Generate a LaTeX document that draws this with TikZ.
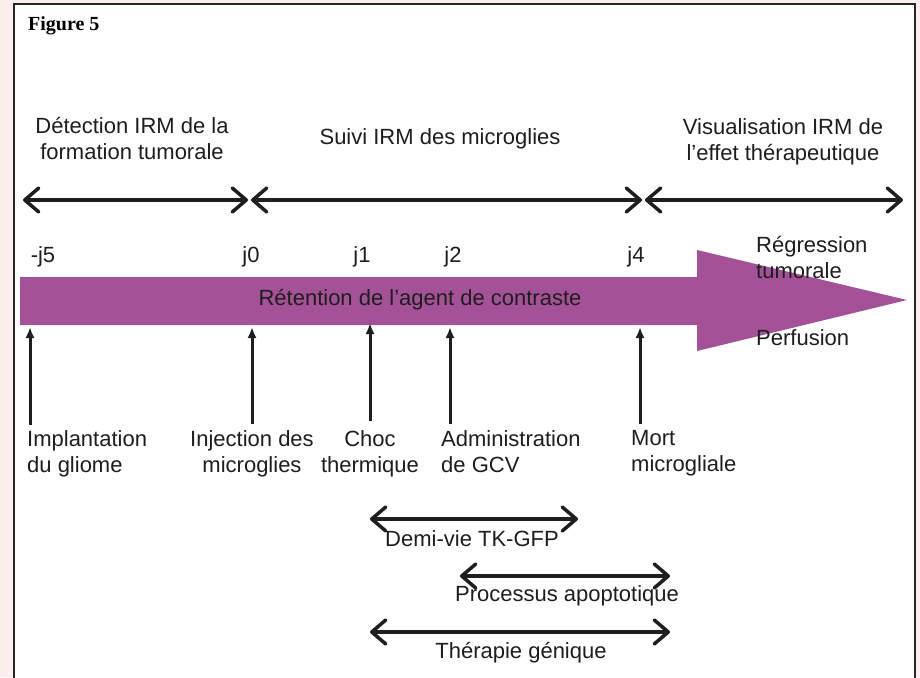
\documentclass[tikz,border=0pt]{standalone}
\usepackage{fontspec}
\setmainfont{Liberation Sans}
\newfontfamily\serifbf{Liberation Serif}
\usetikzlibrary{arrows.meta}
\definecolor{pinkbg}{HTML}{FCEEEA}
\definecolor{violet}{HTML}{A45197}
\definecolor{txt}{HTML}{1E1E1E}
\begin{document}
\begin{tikzpicture}[x=1pt,y=-1pt,
  lbl/.style={font=\fontsize{22}{26}\selectfont, text=txt, inner sep=0pt, align=center},
  lbll/.style={lbl, align=left, anchor=north west},
  period/.style={line width=3.5pt, draw=txt, {Straight Barb[length=14pt,width=24pt,line cap=round,line join=round]}-{Straight Barb[length=14pt,width=24pt,line cap=round,line join=round]}},
  event/.style={line width=3pt, draw=txt, -{Latex[length=11pt,width=9pt]}}]
\useasboundingbox (0,0) rectangle (920,677);
\fill[pinkbg] (0,0) rectangle (920,677);
\draw[fill=white, line width=1.5pt, draw=black!85] (14,4) rectangle (915,700);
\node[anchor=base west, font=\serifbf\bfseries\fontsize{20}{22}\selectfont, inner sep=0pt] (fig) at (28,31) {Figure 5};

% phase labels
\node[lbl, anchor=north] (p1) at (132,117) {Détection IRM de la\\formation tumorale};
\node[lbl, anchor=base] (p2) at (440,144) {Suivi IRM des microglies};
\node[lbl, anchor=north] (p3) at (783,118) {Visualisation IRM de\\l'effet thérapeutique};

% phase arrows
\coordinate (a1) at (23,200); \coordinate (a2) at (248,200);
\coordinate (b1) at (251,200); \coordinate (b2) at (642,200);
\coordinate (c1) at (645,200); \coordinate (c2) at (903,200);
\draw[period] (a1) -- (a2);
\draw[period] (b1) -- (b2);
\draw[period] (c1) -- (c2);

% day labels
\node[lbl, anchor=base] (dm5) at (43,262) {-j5};
\node[lbl, anchor=base] (d0) at (251,262) {j0};
\node[lbl, anchor=base] (d1) at (362,262) {j1};
\node[lbl, anchor=base] (d2) at (453,262) {j2};
\node[lbl, anchor=base] (d4) at (636,262) {j4};

% big arrow
\fill[violet] (20,277) -- (697,277) -- (697,250) -- (907,300) -- (697,351) -- (697,325) -- (20,325) -- cycle;
\node[lbl, anchor=base] (ret) at (420,305) {Rétention de l'agent de contraste};
\node[lbll] (reg) at (756,236) {Régression\\tumorale};
\node[lbl, anchor=base west] (perf) at (756,345) {Perfusion};

% events
\node[lbll] (e1) at (27,430) {Implantation\\du gliome};
\node[lbl, anchor=north] (e2) at (252,430) {Injection des\\microglies};
\node[lbl, anchor=north] (e3) at (370,430) {Choc\\thermique};
\node[lbll] (e4) at (441,430) {Administration\\de GCV};
\node[lbll] (e5) at (631,430) {Mort\\microgliale};
\coordinate (t1) at (30,327); \coordinate (s1) at (30,425);
\coordinate (t2) at (252,327); \coordinate (s2) at (252,424);
\coordinate (t3) at (370,323); \coordinate (s3) at (370,421);
\coordinate (t4) at (450,327); \coordinate (s4) at (450,424);
\coordinate (t5) at (640,327); \coordinate (s5) at (640,424);
\foreach \i in {1,...,5} {\draw[event] (s\i) -- (t\i);}

% durations
\coordinate (f1) at (370,519); \coordinate (f2) at (578,519);
\draw[period] (f1) -- (f2);
\node[lbl, anchor=base] (demi) at (472,546) {Demi-vie TK-GFP};
\coordinate (g1) at (460,576); \coordinate (g2) at (670,576);
\draw[period] (g1) -- (g2);
\node[lbl, anchor=base] (apop) at (567,601) {Processus apoptotique};
\coordinate (h1) at (370,632); \coordinate (h2) at (670,632);
\draw[period] (h1) -- (h2);
\node[lbl, anchor=base] (thera) at (521,658) {Thérapie génique};
\end{tikzpicture}
\end{document}
